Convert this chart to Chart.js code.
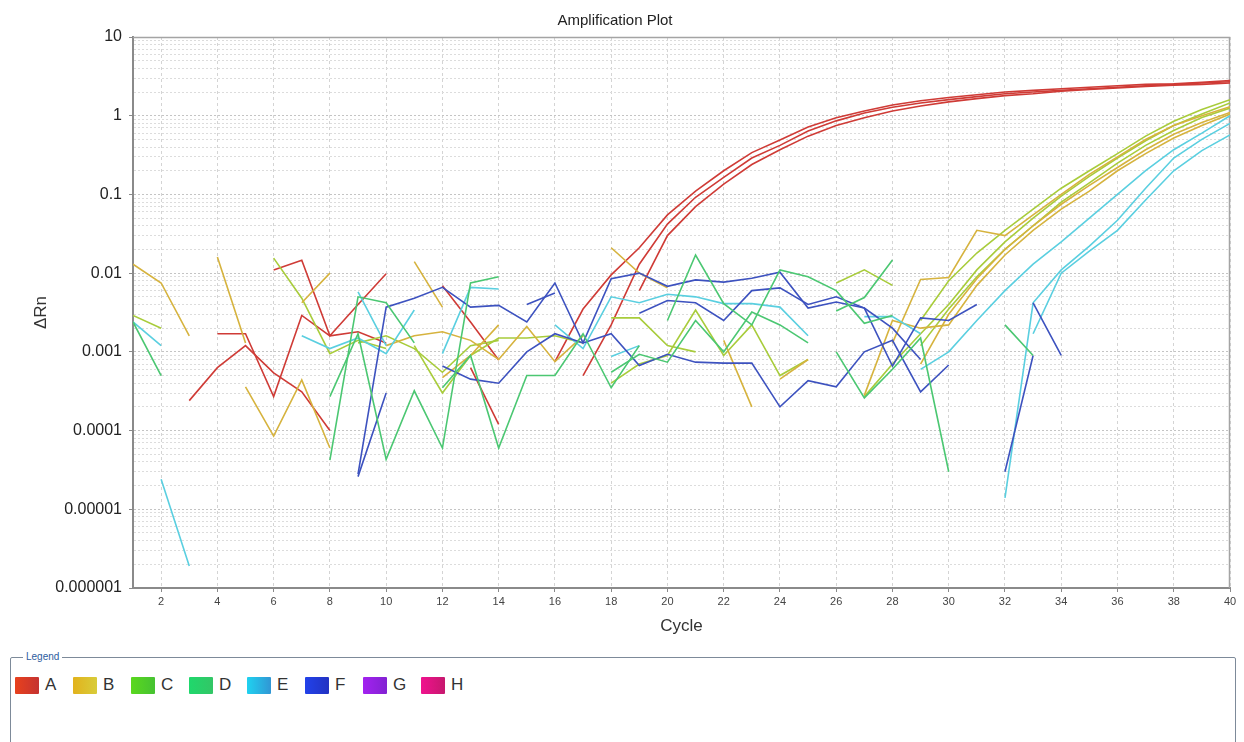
<!DOCTYPE html>
<html>
<head>
<meta charset="utf-8">
<script src="https://cdn.jsdelivr.net/npm/chart.js@4.4.1/dist/chart.umd.min.js"></script>
<style>
html,body{margin:0;padding:0;background:#fff;width:1244px;height:742px;overflow:hidden;font-family:Arial,"Liberation Sans",sans-serif}
#wrap{position:absolute;left:0;top:0;width:1244px;height:645px}
fieldset{position:absolute;left:10px;top:650px;width:1224px;height:120px;margin:0;padding:0;border:1px solid #7d8a99;border-radius:2px}
legend{font-size:10px;color:#2d5c9e;margin-left:12px;padding:0 3px;line-height:14px}
.items{position:absolute;left:15px;top:676px;display:flex}
.item{display:flex;align-items:center;width:58px}
.sw{width:24px;height:17px;margin-right:6px;border-radius:1px}
.lb{font-size:17px;color:#333;line-height:18px}
</style>
</head>
<body>
<div id="wrap"><canvas id="amp" width="1244" height="645"></canvas></div>
<fieldset><legend>Legend</legend></fieldset>
<div class="items" id="items"></div>
<script>
const _ = null;
const cycles = [1,2,3,4,5,6,7,8,9,10,11,12,13,14,15,16,17,18,19,20,
  21,22,23,24,25,26,27,28,29,30,31,32,33,34,35,36,37,38,39,40];
const xTicks = [2,4,6,8,10,12,14,16,18,20,22,24,26,28,30,32,34,36,38,40];
const yTickLabels = ['0.000001','0.00001','0.0001','0.001','0.01','0.1','1','10'];

// ΔRn per well, one value per cycle (null = not drawn)
const A1 = [_,_,_,0.0017,0.0017,0.00027,0.0029,0.0016,0.0018,0.0013,
  _,0.0069,0.0024,0.00079,_,0.00075,0.0035,0.0095,0.021,0.055,
  0.11,0.2,0.34,0.49,0.72,0.94,1.15,1.37,1.55,1.7,
  1.85,2.0,2.1,2.2,2.3,2.4,2.5,2.55,2.65,2.8];
const A2 = [_,_,0.00024,0.00063,0.0012,0.00054,0.00031,0.0001,_,_,
  _,_,0.00063,0.00012,_,_,0.0005,0.0022,0.013,0.042,
  0.092,0.165,0.29,0.42,0.64,0.86,1.08,1.28,1.45,1.6,
  1.75,1.9,2.0,2.1,2.2,2.3,2.4,2.5,2.6,2.7];
const A3 = [_,_,_,_,_,0.011,0.0146,0.0016,0.004,0.0098,
  _,_,_,_,_,_,_,_,0.006,0.03,
  0.07,0.135,0.24,0.37,0.55,0.75,0.94,1.15,1.33,1.5,
  1.65,1.8,1.9,2.05,2.15,2.25,2.35,2.45,2.5,2.6];

const B1 = [0.013,0.0075,0.0016,_,_,_,_,_,_,_,
  0.014,0.0037,_,_,_,_,_,0.021,0.010,0.0065,
  _,_,_,_,_,_,_,0.0013,0.0083,0.0088,
  0.035,0.03,0.055,0.1,0.18,0.3,0.5,0.75,1.0,1.3];
const B2 = [_,_,_,0.016,0.0013,_,0.0042,0.01,_,0.0012,
  0.0016,0.0018,0.0014,0.0008,0.0021,0.00075,0.0016,_,_,_,
  _,0.0014,0.0002,_,_,_,_,_,0.0007,0.003,
  0.0085,0.02,0.04,0.075,0.13,0.22,0.37,0.58,0.82,1.1];
const B3 = [_,_,_,_,0.00036,0.000085,0.00044,0.00006,_,_,
  _,0.00047,0.0009,0.0022,_,_,_,_,_,_,
  _,_,_,0.00045,0.0008,_,0.00028,0.0025,0.002,0.0022,
  0.007,0.017,0.035,0.065,0.11,0.2,0.33,0.52,0.75,1.05];

const C1 = [0.0029,0.002,_,_,_,0.0155,0.0048,0.00095,0.0014,0.0011,
  _,_,_,_,_,_,_,0.0027,0.0027,0.0012,
  0.001,_,_,_,_,_,_,_,0.0025,0.008,
  0.018,0.035,0.065,0.12,0.2,0.33,0.55,0.85,1.2,1.6];
const C2 = [_,_,_,_,_,_,_,_,_,_,
  0.0012,0.0003,0.0009,0.0015,0.0015,0.0016,0.0013,_,_,_,
  _,_,0.0022,0.0005,0.0008,_,0.00027,0.0007,0.0017,0.004,
  0.011,0.025,0.05,0.095,0.17,0.29,0.48,0.75,1.05,1.45];
const C3 = [_,_,_,_,_,_,_,_,0.0013,0.0016,
  0.0011,0.00055,0.0012,0.0014,_,_,_,0.0004,0.0007,0.0009,
  0.0034,0.0009,0.0022,_,_,_,_,_,0.0012,0.0035,
  0.009,0.02,0.04,0.08,0.14,0.25,0.42,0.65,0.95,1.25];
const C4 = [_,_,_,_,_,_,_,_,_,_,
  _,_,_,_,_,_,_,_,_,_,
  _,_,_,_,_,0.0075,0.011,0.007,_,_,
  _,_,_,_,_,_,_,_,_,_];

const D1 = [0.0024,0.0005,_,_,_,_,_,0.000042,0.005,0.0042,
  0.0013,_,_,_,_,_,_,_,_,0.0025,
  0.017,0.0041,0.0022,0.011,0.009,0.006,0.0023,0.0029,_,_,
  _,_,_,_,_,_,_,_,_,_];
const D2 = [_,_,_,_,_,_,_,0.00027,0.0017,0.000043,
  0.00032,0.00006,0.0075,0.009,_,_,_,0.00055,0.00093,0.00074,
  0.0025,0.001,0.0032,0.0022,0.0013,_,_,_,_,_,
  _,_,_,_,_,_,_,_,_,_];
const D3 = [_,_,_,_,_,_,_,_,_,_,
  _,0.00035,0.0009,0.00006,0.0005,0.0005,0.0017,0.00035,0.0012,_,
  _,_,_,_,_,0.001,0.00026,0.0006,0.0015,0.00003,
  _,0.0022,0.0009,_,_,_,_,_,_,_];
const D4 = [_,_,_,_,_,_,_,_,_,_,
  _,_,_,_,_,_,_,_,_,_,
  _,_,_,_,_,0.0033,0.0049,0.0147,_,_,
  _,_,_,_,_,_,_,_,_,_];

const E1 = [0.0024,0.0012,_,_,_,_,0.0016,0.0011,0.0015,0.00095,
  0.0034,_,_,_,_,0.0022,0.0011,0.005,0.0042,0.0054,
  0.005,0.0041,0.0041,0.0037,0.0016,_,_,_,0.0006,0.001,
  0.0025,0.006,0.013,0.025,0.05,0.1,0.2,0.37,0.6,1.0];
const E2 = [_,0.000024,0.0000019,_,_,_,_,_,0.0058,0.0012,
  _,0.00095,0.0066,0.0063,_,_,_,0.00087,0.0012,_,
  _,_,_,_,_,_,_,_,_,_,
  _,0.000014,0.0042,0.011,0.022,0.047,0.12,0.29,0.5,0.8];
const E3 = [_,_,_,_,_,_,_,_,_,_,
  _,_,_,_,_,_,_,_,_,_,
  _,_,_,_,_,_,0.0028,0.0028,0.0017,_,
  _,_,0.0017,0.01,0.019,0.035,0.085,0.2,0.36,0.57];

const F1 = [_,_,_,_,_,_,_,_,0.000026,0.0003,
  _,0.00066,0.00045,0.0004,0.001,0.0017,0.0013,0.0017,0.00067,0.00093,
  0.00074,0.00072,0.00072,0.0002,0.00043,0.00036,0.001,0.0014,0.00031,0.00068,
  _,0.00003,0.0009,_,_,_,_,_,_,_];
const F2 = [_,_,_,_,_,_,_,_,0.000028,0.0037,
  0.0048,0.0066,0.0037,0.0039,0.0024,0.0075,0.0013,0.0085,0.01,0.0068,
  0.0082,0.0077,0.0086,0.0103,0.0036,0.0043,0.0036,0.002,0.0008,_,
  _,_,_,_,_,_,_,_,_,_];
const F3 = [_,_,_,_,_,_,_,_,_,_,
  _,_,_,_,0.004,0.0056,_,_,0.0031,0.0045,
  0.0042,0.0025,0.006,0.0065,0.004,0.005,0.0036,0.00066,0.0027,0.0025,
  0.004,_,0.0042,0.0009,_,_,_,_,_,_];

const groups = ['A','B','C','D','E','F','G','H'];
const lineColors = {A:'#cf3b36',B:'#d6b33e',C:'#a8cc3b',D:'#4bc772',E:'#5acfe0',F:'#3d52bf'};
const swatchColors = {
  A:['#e8411d','#c53331'], B:['#e2b21c','#d8cc3a'], C:['#5ad81e','#46c232'],
  D:['#1fd86c','#33c666'], E:['#1fd2f0','#3196d4'], F:['#2242ea','#2232c2'],
  G:['#a322f0','#8222d2'], H:['#f0128e','#c6186e']
};

const wells = [
  ['D1',D1],['D2',D2],['D3',D3],['D4',D4],
  ['F1',F1],['F2',F2],['F3',F3],
  ['C4',C4],['E1',E1],['E2',E2],['E3',E3],
  ['B1',B1],['B2',B2],['B3',B3],
  ['C1',C1],['C2',C2],['C3',C3],
  ['A1',A1],['A2',A2],['A3',A3]
];

const datasets = wells.map(([name, values]) => ({
  label: name,
  data: values,
  borderColor: lineColors[name[0]],
  borderWidth: 1.6,
  pointRadius: 0,
  fill: false,
  spanGaps: false,
  tension: 0
}));

const isDecade = v => {
  const e = Math.round(Math.log10(v));
  return Math.abs(v - Math.pow(10, e)) / v < 1e-6;
};

// top and right edges of the plot frame
const frame = {
  id: 'frame',
  beforeDatasetsDraw(chart) {
    const {ctx, chartArea: a} = chart;
    ctx.save();
    ctx.strokeStyle = '#a4a4a4';
    ctx.lineWidth = 1.5;
    ctx.beginPath();
    ctx.moveTo(a.left, a.top + 0.5);
    ctx.lineTo(a.right - 0.5, a.top + 0.5);
    ctx.lineTo(a.right - 0.5, a.bottom);
    ctx.stroke();
    ctx.restore();
  }
};

const font = 'Arial, "Liberation Sans", sans-serif';

new Chart(document.getElementById('amp'), {
  type: 'line',
  data: { labels: cycles, datasets: datasets },
  plugins: [frame],
  options: {
    responsive: false,
    animation: false,
    events: [],
    layout: { padding: { left: 0, right: 14, top: 0, bottom: 0 } },
    plugins: {
      legend: { display: false },
      tooltip: { enabled: false },
      title: {
        display: true,
        text: 'Amplification Plot',
        color: '#222',
        font: { family: font, size: 15, weight: 'normal' },
        padding: { top: 12, bottom: 7 }
      }
    },
    scales: {
      x: {
        type: 'linear',
        min: 1,
        max: 40,
        afterBuildTicks: s => { s.ticks = xTicks.map(v => ({ value: v })); },
        afterFit: s => { s.height = 57; },
        ticks: { autoSkip: false, maxRotation: 0, padding: 3, color: '#444', font: { family: font, size: 11 } },
        grid: { color: '#d4d4d4', lineWidth: 1, tickLength: 4, tickColor: '#8a8a8a' },
        border: { color: '#8a8a8a', width: 2, dash: [3, 3] },
        title: {
          display: true,
          text: 'Cycle',
          color: '#333',
          font: { family: font, size: 17 },
          padding: { top: 4, bottom: 8 }
        }
      },
      y: {
        type: 'logarithmic',
        min: 0.000001,
        max: 10,
        afterBuildTicks: s => {
          const t = [];
          for (let e = -6; e <= 0; e++) {
            for (let m = 1; m <= 9; m++) {
              const v = parseFloat((m * Math.pow(10, e)).toPrecision(3));
              t.push({ value: v, major: m === 1 });
            }
          }
          t.push({ value: 10, major: true });
          s.ticks = t;
        },
        afterFit: s => { s.width = 133; },
        ticks: {
          autoSkip: false,
          padding: 7,
          color: '#222',
          font: { family: font, size: 16 },
          callback: v => isDecade(v) ? yTickLabels[Math.round(Math.log10(v)) + 6] : ''
        },
        grid: {
          color: c => (c.tick && isDecade(c.tick.value)) ? '#c4c4c4' : '#dcdcdc',
          lineWidth: 1,
          tickLength: 4,
          tickColor: c => (c.tick && isDecade(c.tick.value)) ? '#8a8a8a' : 'rgba(0,0,0,0)'
        },
        border: { color: '#8a8a8a', width: 2, dash: [2, 2] },
        title: {
          display: true,
          text: 'ΔRn',
          color: '#333',
          font: { family: font, size: 17 },
          padding: { top: 31, bottom: 0 }
        }
      }
    }
  }
});

// legend box below the plot
const items = document.getElementById('items');
groups.forEach(g => {
  const it = document.createElement('div');
  it.className = 'item';
  const sw = document.createElement('div');
  sw.className = 'sw';
  sw.style.background = 'linear-gradient(to right,' + swatchColors[g][0] + ',' + swatchColors[g][1] + ')';
  const lb = document.createElement('span');
  lb.className = 'lb';
  lb.textContent = g;
  it.appendChild(sw);
  it.appendChild(lb);
  items.appendChild(it);
});
</script>
</body>
</html>
